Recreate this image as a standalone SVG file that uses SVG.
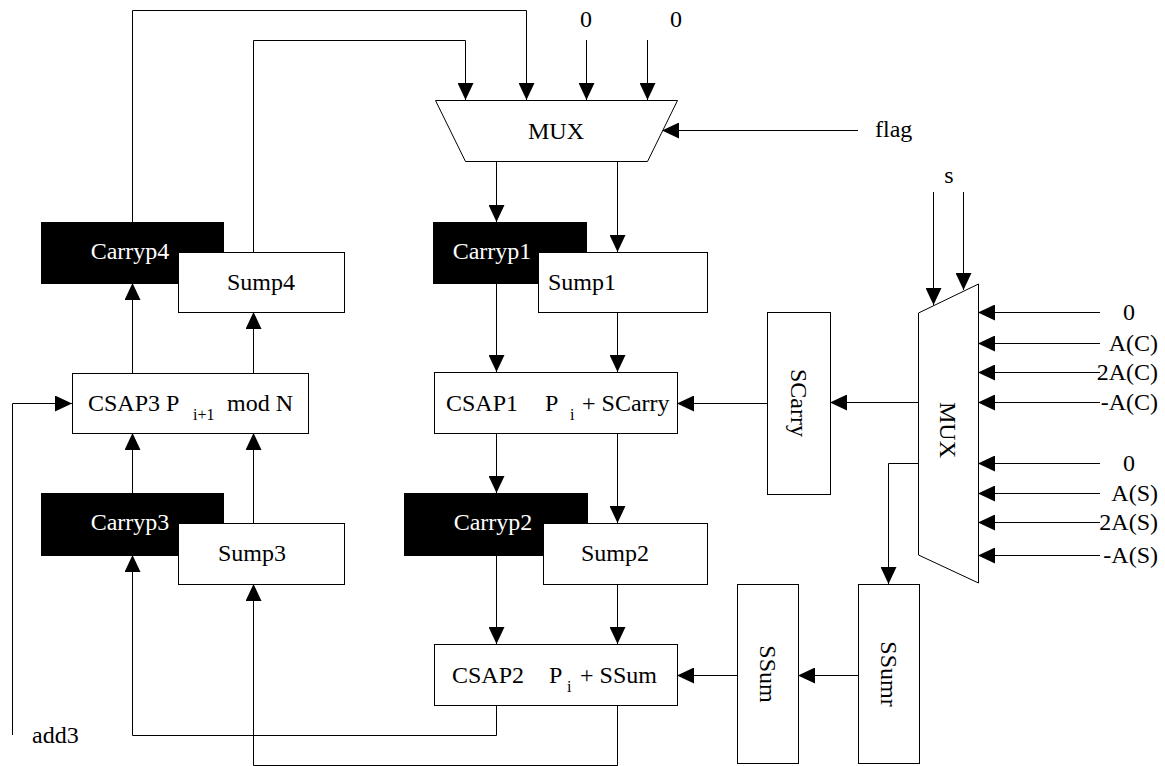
<svg xmlns="http://www.w3.org/2000/svg" width="1165" height="766" viewBox="0 0 1165 766">
<defs>
<marker id="ah" markerUnits="userSpaceOnUse" markerWidth="17" markerHeight="16" refX="17" refY="8" orient="auto"><path d="M0,0 L17,8 L0,16 z" fill="#000"/></marker>
<style>
.t{font-family:"Liberation Serif","Times New Roman",serif;font-size:24px;fill:#000}
.s{font-family:"Liberation Serif","Times New Roman",serif;font-size:16px;fill:#000}
.w{fill:#fff}
.box{fill:#fff;stroke:#000;stroke-width:1}
.blk{fill:#000;stroke:#000;stroke-width:1}
.c{fill:none;stroke:#000;stroke-width:1}
.a{fill:none;stroke:#000;stroke-width:1;marker-end:url(#ah)}
</style>
</defs>
<rect width="1165" height="766" fill="#fff"/>

<g id="connectors">
<path class="a" d="M132.5,222 V10.5 H526.5 V100"/>
<path class="a" d="M253.5,252 V40.5 H465.5 V100"/>
<path class="a" d="M586.5,40 V100"/>
<path class="a" d="M647.5,40 V100"/>
<path class="a" d="M858,130.5 H662"/>
<path class="a" d="M496.5,161 V222"/>
<path class="a" d="M617.5,161 V252"/>
<path class="a" d="M496.5,283 V372"/>
<path class="a" d="M617.5,312 V372"/>
<path class="a" d="M496.5,433 V493"/>
<path class="a" d="M617.5,433 V523"/>
<path class="a" d="M496.5,555 V644"/>
<path class="a" d="M617.5,584 V644"/>
<path class="a" d="M132.5,373 V283"/>
<path class="a" d="M253.5,373 V312"/>
<path class="a" d="M132.5,493 V433"/>
<path class="a" d="M253.5,523 V433"/>
<path class="a" d="M496.5,705 V735.5 H132.5 V555"/>
<path class="a" d="M617.5,705 V765.5 H253.5 V584"/>
<path class="a" d="M12.5,735 V403.5 H72"/>
<path class="a" d="M918,402.5 H830"/>
<path class="a" d="M767,403.5 H677"/>
<path class="a" d="M918,463.5 H888.5 V584"/>
<path class="a" d="M858,675.5 H798"/>
<path class="a" d="M737,675.5 H677"/>
<path class="a" d="M933.5,192 V305"/>
<path class="a" d="M963.5,192 V290"/>
<path class="a" d="M1100,312.5 H978"/>
<path class="a" d="M1100,343.5 H978"/>
<path class="a" d="M1100,372.5 H978"/>
<path class="a" d="M1100,402.5 H978"/>
<path class="a" d="M1100,463.5 H978"/>
<path class="a" d="M1100,493.5 H978"/>
<path class="a" d="M1100,522.5 H978"/>
<path class="a" d="M1100,555.5 H978"/>
</g>

<g id="mux-top">
<polygon class="box" points="435.5,100.5 677.5,100.5 647.5,161.5 465.5,161.5"/>
<text class="t" x="556" y="139" text-anchor="middle">MUX</text>
</g>
<g id="mux-right">
<polygon class="box" points="918.5,313 978.5,284 978.5,583 918.5,555"/>
<text class="t" transform="translate(948,430) rotate(90)" x="0" y="8" text-anchor="middle">MUX</text>
</g>

<g id="carryp4">
<rect class="blk" x="41.5" y="222.5" width="182" height="61"/>
<text class="t w" x="130" y="259" text-anchor="middle">Carryp4</text>
</g>
<g id="sump4">
<rect class="box" x="178.5" y="252.5" width="166" height="60"/>
<text class="t" x="261" y="290" text-anchor="middle">Sump4</text>
</g>
<g id="carryp1">
<rect class="blk" x="433.5" y="222.5" width="153" height="61"/>
<text class="t w" x="492" y="259" text-anchor="middle">Carryp1</text>
</g>
<g id="sump1">
<rect class="box" x="538.5" y="252.5" width="169" height="60"/>
<text class="t" x="582" y="290" text-anchor="middle">Sump1</text>
</g>

<g id="csap3">
<rect class="box" x="72.5" y="373.5" width="236" height="60"/>
<text class="t" x="88" y="411">CSAP3</text>
<text class="t" x="166" y="411">P</text>
<text class="s" x="193" y="420">i+1</text>
<text class="t" x="227" y="411">mod N</text>
</g>
<g id="csap1">
<rect class="box" x="434.5" y="372.5" width="243" height="61"/>
<text class="t" x="446" y="411">CSAP1</text>
<text class="t" x="545" y="411">P</text>
<text class="s" x="570" y="420">i</text>
<text class="t" x="582" y="411">+ SCarry</text>
</g>
<g id="scarry">
<rect class="box" x="767.5" y="312.5" width="63" height="182"/>
<text class="t" transform="translate(799,403) rotate(90)" x="0" y="8" text-anchor="middle">SCarry</text>
</g>

<g id="carryp3">
<rect class="blk" x="41.5" y="493.5" width="182" height="62"/>
<text class="t w" x="130" y="530" text-anchor="middle">Carryp3</text>
</g>
<g id="sump3">
<rect class="box" x="178.5" y="523.5" width="166" height="61"/>
<text class="t" x="252" y="561" text-anchor="middle">Sump3</text>
</g>
<g id="carryp2">
<rect class="blk" x="404.5" y="493.5" width="183" height="62"/>
<text class="t w" x="493" y="530" text-anchor="middle">Carryp2</text>
</g>
<g id="sump2">
<rect class="box" x="543.5" y="523.5" width="164" height="61"/>
<text class="t" x="615" y="561" text-anchor="middle">Sump2</text>
</g>

<g id="csap2">
<rect class="box" x="434.5" y="644.5" width="243" height="61"/>
<text class="t" x="452" y="683">CSAP2</text>
<text class="t" x="549" y="683">P</text>
<text class="s" x="567" y="692">i</text>
<text class="t" x="580" y="683">+ SSum</text>
</g>
<g id="ssum">
<rect class="box" x="737.5" y="584.5" width="61" height="179"/>
<text class="t" transform="translate(768,674) rotate(90)" x="0" y="8" text-anchor="middle">SSum</text>
</g>
<g id="ssumr">
<rect class="box" x="858.5" y="584.5" width="61" height="179"/>
<text class="t" transform="translate(889,674) rotate(90)" x="0" y="8" text-anchor="middle">SSumr</text>
</g>

<g id="labels">
<text class="t" x="586" y="27" text-anchor="middle">0</text>
<text class="t" x="676" y="27" text-anchor="middle">0</text>
<text class="t" x="875" y="137">flag</text>
<text class="t" x="949" y="183" text-anchor="middle">s</text>
<text class="t" x="32" y="743">add3</text>
<text class="t" x="1129" y="320" text-anchor="middle">0</text>
<text class="t" x="1158" y="351" text-anchor="end">A(C)</text>
<text class="t" x="1158" y="380" text-anchor="end">2A(C)</text>
<text class="t" x="1158" y="410" text-anchor="end">-A(C)</text>
<text class="t" x="1129" y="471" text-anchor="middle">0</text>
<text class="t" x="1158" y="501" text-anchor="end">A(S)</text>
<text class="t" x="1158" y="530" text-anchor="end">2A(S)</text>
<text class="t" x="1158" y="563" text-anchor="end">-A(S)</text>
</g>
</svg>
